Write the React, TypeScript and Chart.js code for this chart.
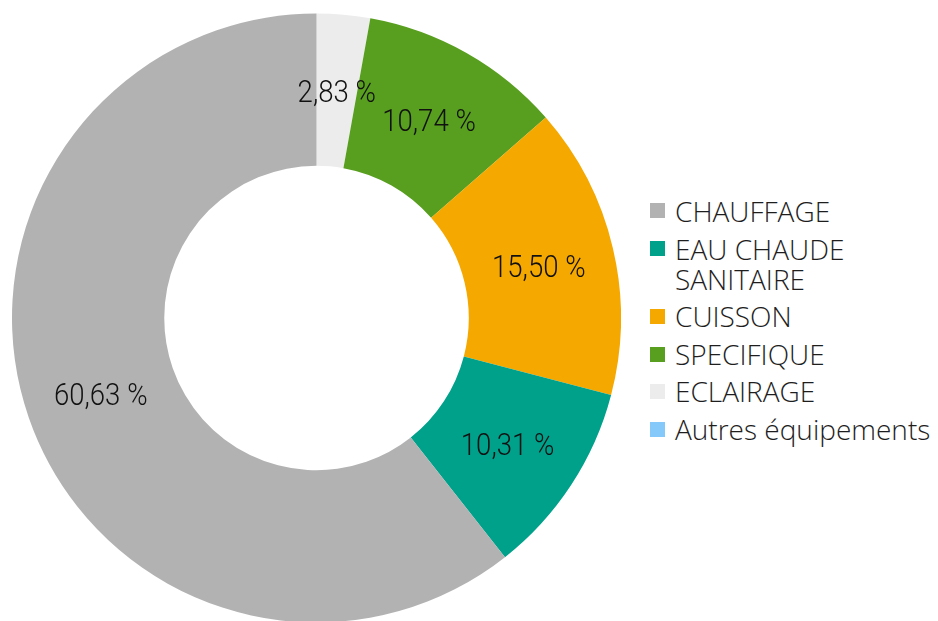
import React, { useEffect, useRef } from "react";
import { Chart, registerables } from "chart.js";

Chart.register(...registerables);

// Legend order (as shown in the reference legend)
const categories = [
  "CHAUFFAGE",
  "EAU CHAUDE SANITAIRE",
  "CUISSON",
  "SPECIFIQUE",
  "ECLAIRAGE",
  "Autres équipements",
];
const legendLines = [
  ["CHAUFFAGE"],
  ["EAU CHAUDE", "SANITAIRE"],
  ["CUISSON"],
  ["SPECIFIQUE"],
  ["ECLAIRAGE"],
  ["Autres équipements"],
];
const shares = [60.63, 10.31, 15.5, 10.74, 2.83, 0];
const colors = ["#b2b2b2", "#00a18b", "#f5a800", "#589e1f", "#ececec", "#85c8fa"];

const fmt = (v: number) => v.toFixed(2).replace(".", ",") + " %";

const labelPlugin = {
  id: "sliceLabels",
  afterDatasetsDraw(chart: any) {
    const ctx = chart.ctx;
    const meta = chart.getDatasetMeta(0);
    const data = chart.data.datasets[0].data as number[];
    ctx.save();
    ctx.font = '300 31px "Roboto"';
    ctx.fillStyle = "#111111";
    ctx.textAlign = "center";
    ctx.textBaseline = "middle";
    meta.data.forEach((arc: any, i: number) => {
      const v = data[i];
      if (!v) return;
      const p = arc.tooltipPosition();
      ctx.save();
      ctx.translate(p.x, p.y + 4);
      ctx.scale(0.89, 1);
      ctx.fillText(fmt(v), 0, 0);
      ctx.restore();
    });
    ctx.restore();
  },
};

export default function App() {
  const canvasRef = useRef<HTMLCanvasElement | null>(null);

  useEffect(() => {
    if (!canvasRef.current) return;
    // Draw clockwise from the top in reverse legend order
    const order = categories.map((_, i) => i).reverse();
    const chart = new Chart(canvasRef.current, {
      type: "doughnut",
      data: {
        labels: order.map((i) => categories[i]),
        datasets: [
          {
            data: order.map((i) => shares[i]),
            backgroundColor: order.map((i) => colors[i]),
            borderWidth: 0,
            hoverOffset: 0,
          },
        ],
      },
      options: {
        responsive: false,
        animation: false,
        cutout: "50%",
        layout: { padding: 0 },
        plugins: {
          legend: { display: false },
          tooltip: { enabled: false },
        },
      },
      plugins: [labelPlugin],
    });
    return () => chart.destroy();
  }, []);

  const centers = [210.5, 248.5, 316, 354, 391, 429];

  return (
    <div
      style={{
        position: "fixed",
        left: 0,
        top: 0,
        width: 938,
        height: 621,
        overflow: "hidden",
        background: "#ffffff",
      }}
    >
      <div style={{ position: "absolute", left: 12, top: 13, width: 609, height: 610 }}>
        <canvas ref={canvasRef} width={609} height={610} />
      </div>
      {legendLines.map((lines, i) => (
        <div
          key={i}
          style={{
            position: "absolute",
            left: 650,
            top: centers[i] - 15,
            display: "flex",
            alignItems: "flex-start",
          }}
        >
          <div
            style={{
              width: 15,
              height: 15,
              marginTop: 7.5,
              background: colors[i],
              flex: "none",
            }}
          />
          <div
            style={{
              marginLeft: 10,
              fontFamily: '"Open Sans", sans-serif',
              fontWeight: 300,
              fontSize: 28,
              lineHeight: "30px",
              color: "#1e1e1e",
              whiteSpace: "nowrap",
            }}
          >
            {lines.map((l, j) => (
              <div key={j}>{l}</div>
            ))}
          </div>
        </div>
      ))}
    </div>
  );
}
